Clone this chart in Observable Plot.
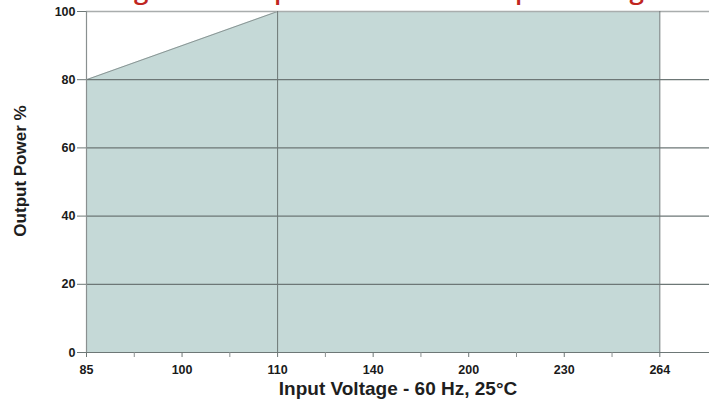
<!DOCTYPE html>
<html>
<head>
<meta charset="utf-8">
<script src="https://cdn.jsdelivr.net/npm/d3@7"></script>
<script src="https://cdn.jsdelivr.net/npm/@observablehq/plot@0.6"></script>
<style>
  html, body { margin: 0; padding: 0; background: #fff; overflow: hidden; }
  #wrap { position: relative; width: 709px; height: 408px; }
  #title { position: absolute; top: -26px; left: 113px; white-space: nowrap;
    font: 600 26px "Open Sans", sans-serif; line-height: 30px; color: #c0261f; z-index: 2; }
  #chart { position: absolute; top: 0; left: 0; }
</style>
</head>
<body>
<div id="wrap">
  <div id="title"></div>
  <div id="chart"></div>
</div>
<script>
const titleText = "Figure 6. Output Power vs. AC Input Voltage";
const xTickLabels = ["85", "100", "110", "140", "200", "230", "264"];
const yTicks = [0, 20, 40, 60, 80, 100];
const voltage = ["85", "110", "264"];
const outputPower = [80, 100, 100];
const xLabel = "Input Voltage - 60 Hz, 25°C";
const yLabel = "Output Power %";

const idx = v => xTickLabels.indexOf(v);
const curve = voltage.map((v, i) => ({x: idx(v), y: outputPower[i]}));
const major = d3.range(xTickLabels.length);
const minor = major.slice(0, -1).map(i => i + 0.5);

const font = "'Liberation Sans', Arial, sans-serif";
const plot = Plot.plot({
  width: 709,
  height: 408,
  marginTop: 11,
  marginBottom: 56,
  marginLeft: 86,
  marginRight: 0,
  style: {fontFamily: font, fontWeight: "bold", fontSize: "12.5px", color: "#1a1a1a", background: "transparent"},
  x: {domain: [0, 6.52], axis: null},
  y: {domain: [0, 100], axis: null},
  marks: [
    Plot.areaY(curve, {x: "x", y: "y", fill: "#c5d9d7"}),
    Plot.line(curve, {x: "x", y: "y", stroke: "#8a9594", strokeWidth: 1}),
    Plot.ruleY([100], {stroke: "#a9adad", strokeWidth: 1.5}),
    Plot.ruleY([20, 40, 60, 80], {stroke: "#6d7776", strokeWidth: 1.2}),
    Plot.ruleX([idx("110"), idx("264")], {y1: 0, y2: 100, stroke: "#6d7776", strokeWidth: 1}),
    Plot.ruleX([0], {y1: 0, y2: 100, stroke: "#8a9090", strokeWidth: 1.2}),
    Plot.ruleY([0], {stroke: "#6d7776", strokeWidth: 1.2}),
    Plot.axisY(yTicks, {tickSize: 9, tickPadding: 2, stroke: "#6d7776", fill: "#1a1a1a", label: null}),
    Plot.axisX(major, {tickSize: 5, tickPadding: 8, tickFormat: i => xTickLabels[i], stroke: "#6d7776", fill: "#1a1a1a", label: null}),
    Plot.axisX(minor, {tickSize: 5, tickFormat: () => "", stroke: "#8a9090", label: null}),
    Plot.text([xLabel], {frameAnchor: "bottom", dy: 42, fontSize: 19, fontWeight: "bold", fill: "#1e1e1e"}),
    Plot.text([yLabel], {frameAnchor: "left", dx: -66, dy: -11, rotate: -90, textAnchor: "middle", fontSize: 17, fontWeight: "bold", fill: "#1e1e1e"})
  ]
});
document.getElementById("chart").appendChild(plot);
document.getElementById("title").textContent = titleText;
</script>
</body>
</html>
